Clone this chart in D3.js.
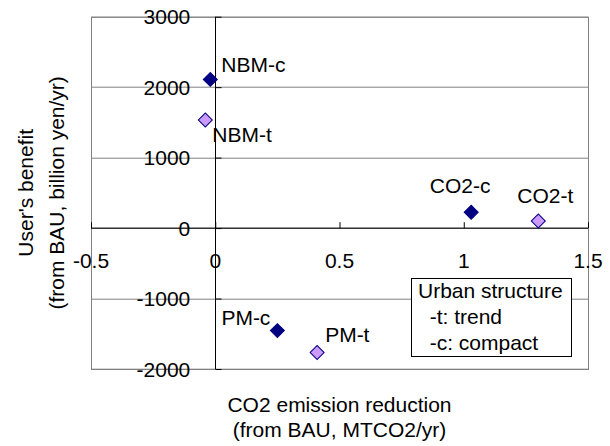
<!DOCTYPE html>
<html>
<head>
<meta charset="utf-8">
<script src="https://cdn.jsdelivr.net/npm/d3@7"></script>
<style>
  body { margin: 0; background: #fff; }
  text { font-family: "Liberation Sans", Arial, sans-serif; font-size: 21px; fill: #000; }
</style>
</head>
<body>
<svg id="chart" width="610" height="446"></svg>
<script>
// scenario names and values
let names = ["NBM-c", "NBM-t", "CO2-c", "CO2-t", "PM-c", "PM-t"];
let co2Reduction = [-0.02, -0.04, 1.03, 1.30, 0.25, 0.41];
let userBenefit = [2110, 1535, 225, 100, -1455, -1765];
let structure = ["c", "t", "c", "t", "c", "t"];

let xTicks = [-0.5, 0, 0.5, 1, 1.5];
let yTicks = [-2000, -1000, 0, 1000, 2000, 3000];
let legendLines = ["Urban structure", "  -t: trend", "  -c: compact"];

// where each data label sits relative to its marker
let labelPos = {
    "NBM-c": {dx: 11, dy: -7, anchor: "start"},
    "NBM-t": {dx: 7, dy: 22, anchor: "start"},
    "CO2-c": {dx: -11, dy: -19, anchor: "middle"},
    "CO2-t": {dx: 7, dy: -18, anchor: "middle"},
    "PM-c": {dx: -7, dy: -6, anchor: "end"},
    "PM-t": {dx: 8, dy: -10, anchor: "start"}
};

let svg = d3.select("#chart"),
    margin = {top: 16.7, right: 22, bottom: 77, left: 91},
    width = +svg.attr("width") - margin.left - margin.right,
    height = +svg.attr("height") - margin.top - margin.bottom,
    g = svg.append("g").attr("transform", "translate(" + margin.left + "," + margin.top + ")");

let x = d3.scaleLinear().domain([-0.5, 1.5]).range([0, width]);
let y = d3.scaleLinear().domain([-2000, 3000]).range([height, 0]);

let fill = {c: "#000080", t: "#CC99FF"};

let data = names.map((n, i) => ({name: n, x: co2Reduction[i], y: userBenefit[i], s: structure[i]}));

// gridlines
g.append("g")
    .selectAll("line")
    .data(yTicks)
    .enter().append("line")
    .attr("x1", 0)
    .attr("x2", width)
    .attr("y1", d => Math.round(y(d)) + 0.5)
    .attr("y2", d => Math.round(y(d)) + 0.5)
    .attr("stroke", "#808080");

// plot border
g.append("rect")
    .attr("x", 0.5)
    .attr("y", 0.5)
    .attr("width", width)
    .attr("height", height)
    .attr("fill", "none")
    .attr("stroke", "#808080");

// x axis through y = 0, ticks pointing up
let xAxis = g.append("g")
    .attr("transform", "translate(0," + (Math.round(y(0)) + 0.5) + ")")
    .call(d3.axisTop(x).tickValues(xTicks).tickSize(6).tickFormat(""));
xAxis.select(".domain").attr("stroke", "#000").attr("d", "M0,0H" + width);
xAxis.selectAll(".tick line").attr("stroke", "#000");

// y axis through x = 0, ticks pointing right
let yAxis = g.append("g")
    .attr("transform", "translate(" + (Math.round(x(0)) + 0.5) + ",0)")
    .call(d3.axisRight(y).tickValues(yTicks).tickSize(6).tickFormat(""));
yAxis.select(".domain").attr("stroke", "#000").attr("d", "M0,0V" + height);
yAxis.selectAll(".tick line").attr("stroke", "#000");

// tick labels (Excel "low" position)
g.append("g")
    .selectAll("text")
    .data(yTicks)
    .enter().append("text")
    .attr("x", x(0) - 25)
    .attr("y", d => y(d))
    .attr("dy", "0.36em")
    .attr("text-anchor", "end")
    .text(d => d);

g.append("g")
    .selectAll("text")
    .data(xTicks)
    .enter().append("text")
    .attr("x", d => x(d))
    .attr("y", y(0) + 40)
    .attr("text-anchor", "middle")
    .text(d => d);

// markers
let diamond = d3.symbol().type(d3.symbolSquare).size(98);
g.append("g")
    .selectAll("path")
    .data(data)
    .enter().append("path")
    .attr("d", diamond)
    .attr("transform", d => "translate(" + x(d.x) + "," + y(d.y) + ") rotate(45)")
    .attr("fill", d => fill[d.s])
    .attr("stroke", "#000080")
    .attr("stroke-width", 1);

// data labels
g.append("g")
    .selectAll("text")
    .data(data)
    .enter().append("text")
    .attr("x", d => x(d.x) + labelPos[d.name].dx)
    .attr("y", d => y(d.y) + labelPos[d.name].dy)
    .attr("text-anchor", d => labelPos[d.name].anchor)
    .text(d => d.name);

// legend box
let legend = svg.append("g").attr("transform", "translate(411.5,278.5)");
legend.append("rect")
    .attr("width", 160)
    .attr("height", 78)
    .attr("fill", "#fff")
    .attr("stroke", "#000");
legend.selectAll("text")
    .data(legendLines)
    .enter().append("text")
    .attr("x", 6.5)
    .attr("y", (d, i) => 19.5 + i * 26)
    .attr("xml:space", "preserve")
    .style("white-space", "pre")
    .text(d => d);

// axis titles
let cx = margin.left + width / 2;
svg.append("text")
    .attr("x", cx)
    .attr("y", 412)
    .attr("text-anchor", "middle")
    .text("CO2 emission reduction");
svg.append("text")
    .attr("x", cx)
    .attr("y", 437)
    .attr("text-anchor", "middle")
    .text("(from BAU, MTCO2/yr)");

let cy = margin.top + height / 2;
["User's benefit", "(from BAU, billion yen/yr)"].forEach((t, i) => {
    svg.append("text")
        .attr("transform", "translate(" + (25 + i * 31) + "," + cy + ") rotate(-90)")
        .attr("dy", "0.36em")
        .attr("text-anchor", "middle")
        .text(t);
});
</script>
</body>
</html>
